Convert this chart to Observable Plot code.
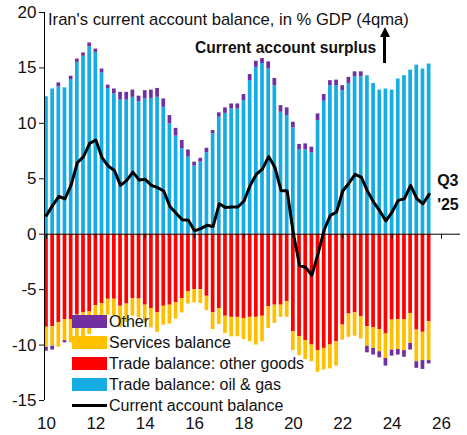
<!DOCTYPE html>
<html>
<head>
<meta charset="utf-8">
<script src="https://cdn.jsdelivr.net/npm/d3@7"></script>
<script src="https://cdn.jsdelivr.net/npm/@observablehq/plot@0.6"></script>
<style>
  html, body { margin: 0; padding: 0; background: #fff; }
  #wrap { position: relative; width: 467px; height: 435px; font-family: "Liberation Sans", Arial, sans-serif; color: #111; }
  #wrap svg { position: absolute; left: 0; top: 0; }
  .ov { position: absolute; font-size: 16px; line-height: 16px; white-space: nowrap; }
  #title { left: 48px; top: 12px; font-size: 16.6px; }
  #surplus { left: 195px; top: 40px; font-weight: bold; font-size: 15.6px; }
  #arrow { position: absolute; left: 383px; top: 36px; width: 3px; height: 27px; background: #000; }
  #arrowhead { position: absolute; left: 379.5px; top: 27px; width: 0; height: 0;
    border-left: 5px solid transparent; border-right: 5px solid transparent; border-bottom: 10px solid #000; }
  #legend { position: absolute; left: 72px; top: 311px; }
  .lrow { display: flex; align-items: center; height: 21px; font-size: 16px; }
  .sw { width: 35px; height: 13px; margin-right: 2px; }
  .ln { width: 35px; height: 3px; background: #000; margin-right: 2px; }
</style>
</head>
<body>
<div id="wrap">
  <div id="chart"></div>
  <div class="ov" id="title">Iran's current account balance, in % GDP (4qma)</div>
  <div class="ov" id="surplus">Current account surplus</div>
  <div id="arrow"></div>
  <div id="arrowhead"></div>
  <div id="legend"></div>
</div>
<script>
// Quarterly data, 2010 Q1 - 2025 Q3 (years shown as two digits on the axis)
const startYear = 10;
const oilGas = [12.4,13.1,13.3,13.2,13.95,15.5,16.05,16.9,16.4,14.55,
  13.15,12.65,12.1,12.1,12.35,11.95,12.2,12.25,12.35,11.45,
  9.95,8.85,7.7,6.95,6.15,6.5,7.35,9.05,10.55,10.9,
  11.3,11.3,12.05,13.85,15.05,15.4,14.9,13.4,11.0,10.7,
  9.6,7.6,7.6,7.35,10.25,12.0,13.4,13.4,12.95,13.6,
  14.2,14.2,14.3,13.6,13.0,13.1,13.0,14.0,14.3,14.8,
  15.25,14.9,15.35];
const otherGoods = [-8.4,-8.35,-8.0,-7.7,-7.7,-7.3,-7.1,-7.0,-6.45,-6.25,
  -5.87,-5.87,-6.5,-6.3,-5.8,-5.85,-6.4,-6.7,-7.1,-6.5,
  -6.4,-6.2,-5.8,-5.2,-5.0,-5.0,-5.6,-7.1,-6.7,-7.4,
  -7.5,-7.5,-7.6,-7.5,-7.5,-7.4,-6.55,-6.4,-6.4,-6.1,
  -8.8,-9.25,-9.6,-10.0,-10.5,-10.3,-10.0,-9.7,-8.2,-7.2,
  -7.1,-7.45,-8.35,-8.45,-8.6,-9.0,-7.75,-7.7,-7.7,-7.15,
  -8.65,-8.85,-7.9];
const services = [-1.8,-1.75,-2.2,-1.9,-2.1,-2.05,-2.25,-2.05,-1.75,-1.75,
  -1.43,-1.48,-1.9,-1.65,-1.6,-1.7,-1.6,-1.75,-1.75,-1.7,
  -1.7,-1.45,-1.3,-1.1,-1.2,-1.25,-1.3,-1.5,-1.45,-1.55,
  -1.75,-1.75,-1.9,-2.2,-2.5,-2.3,-1.95,-1.65,-1.1,-1.4,
  -1.7,-1.7,-1.7,-1.5,-1.95,-1.95,-2.15,-2.2,-1.35,-2.1,
  -2.1,-2.0,-1.75,-1.85,-2.0,-2.2,-2.7,-2.7,-2.8,-2.7,
  -2.85,-2.55,-3.5];
const other = [-0.35,-0.35,0.35,-0.2,0.3,0.3,0.3,0.35,0.3,0.35,
  0.3,0.45,0.7,0.7,0.65,0.5,0.75,0.75,0.8,0.75,
  0.75,0.7,0.75,0.65,0.35,0.35,0.4,0.3,0.4,0.5,
  0.45,0.45,0.55,0.55,0.55,0.45,0.65,0.65,0.6,0.7,
  0.5,0.5,0.55,0.5,0.6,0.6,0.45,0.5,0.45,0.55,
  0.45,0.45,-0.6,-0.6,-0.55,-0.7,-0.55,-0.5,-0.6,-0.6,
  -0.6,-0.8,-0.3];
const caBalance = [1.7,2.6,3.4,3.2,4.45,6.45,7.0,8.2,8.5,6.9,
  6.15,5.75,4.4,4.85,5.6,4.9,4.95,4.4,4.2,3.9,
  2.5,1.9,1.3,1.25,0.3,0.5,0.8,0.7,2.75,2.4,
  2.45,2.45,3.0,4.4,5.4,5.9,7.0,6.05,3.95,3.9,
  0.05,-2.8,-3.0,-3.7,-1.75,0.4,1.7,2.0,3.9,4.6,
  5.4,5.15,3.9,2.9,2.1,1.2,2.0,3.05,3.2,4.4,
  3.2,2.75,3.6];
const xTicks = [10,12,14,16,18,20,22,24,26];
const yTicks = [-15,-10,-5,0,5,10,15,20];
const lastLabel = "Q3\n'25";

const colors = {oil: "#16ACE4", goods: "#FF0000", services: "#FFC000", other: "#7030A0"};
const xDomain = [9.92, 26.77];
const yDomain = [-15, 20];
const halfBar = 0.075;

// build stacked segments
const quarters = oilGas.map((_, i) => startYear + i / 4);
const oilSeg = [], otherSeg = [], goodsSeg = [], servSeg = [];
quarters.forEach((t, i) => {
  const x1 = t - halfBar, x2 = t + halfBar;
  oilSeg.push({x1, x2, y1: 0, y2: oilGas[i]});
  goodsSeg.push({x1, x2, y1: 0, y2: otherGoods[i]});
  servSeg.push({x1, x2, y1: otherGoods[i], y2: otherGoods[i] + services[i]});
  if (other[i] >= 0) otherSeg.push({x1, x2, y1: oilGas[i], y2: oilGas[i] + other[i]});
  else otherSeg.push({x1, x2, y1: otherGoods[i] + services[i], y2: otherGoods[i] + services[i] + other[i]});
});
const caRows = quarters.map((t, i) => ({t, v: caBalance[i]}));
const rectOpts = {x1: "x1", x2: "x2", y1: "y1", y2: "y2"};

const chart = Plot.plot({
  width: 467, height: 435,
  marginLeft: 44, marginRight: 7, marginTop: 12, marginBottom: 35,
  x: {domain: xDomain},
  y: {domain: yDomain},
  style: {fontFamily: "'Liberation Sans', Arial, sans-serif", fontSize: "17px", color: "#111", background: "transparent"},
  marks: [
    Plot.rect(oilSeg, {...rectOpts, fill: colors.oil}),
    Plot.rect(goodsSeg, {...rectOpts, fill: colors.goods}),
    Plot.rect(servSeg, {...rectOpts, fill: colors.services}),
    Plot.rect(otherSeg, {...rectOpts, fill: colors.other}),
    Plot.ruleY([0], {stroke: "#000", strokeWidth: 1}),
    Plot.ruleX(xTicks, {y1: 0, y2: -0.45, stroke: "#000", strokeWidth: 1}),
    Plot.line(caRows, {x: "t", y: "v", stroke: "#000", strokeWidth: 3, strokeLinejoin: "round"}),
    Plot.text([caRows[caRows.length - 1]], {x: "t", y: "v", text: () => lastLabel, dx: 8, dy: -4,
      textAnchor: "start", lineHeight: 1.5, fontWeight: "bold", fontSize: 16, fill: "#111"}),
    Plot.ruleX([xDomain[0]], {y1: yDomain[0], y2: yDomain[1], stroke: "#000", strokeWidth: 1}),
    Plot.axisY({ticks: yTicks, tickSize: 5, tickPadding: 3, label: null, tickFormat: d => String(d), fontSize: 17}),
    Plot.axisX({ticks: xTicks, tickSize: 0, tickPadding: 16, label: null, tickFormat: d => String(d), fontSize: 17})
  ]
});
document.getElementById("chart").appendChild(chart);

// legend
const legendItems = [
  {label: "Other", color: colors.other},
  {label: "Services balance", color: colors.services},
  {label: "Trade balance: other goods", color: colors.goods},
  {label: "Trade balance: oil & gas", color: colors.oil},
  {label: "Current account balance", line: true}
];
const leg = document.getElementById("legend");
legendItems.forEach(it => {
  const row = document.createElement("div");
  row.className = "lrow";
  const sw = document.createElement("div");
  if (it.line) sw.className = "ln"; else { sw.className = "sw"; sw.style.background = it.color; }
  row.appendChild(sw);
  const tx = document.createElement("span");
  tx.textContent = it.label;
  row.appendChild(tx);
  leg.appendChild(row);
});
</script>
</body>
</html>
